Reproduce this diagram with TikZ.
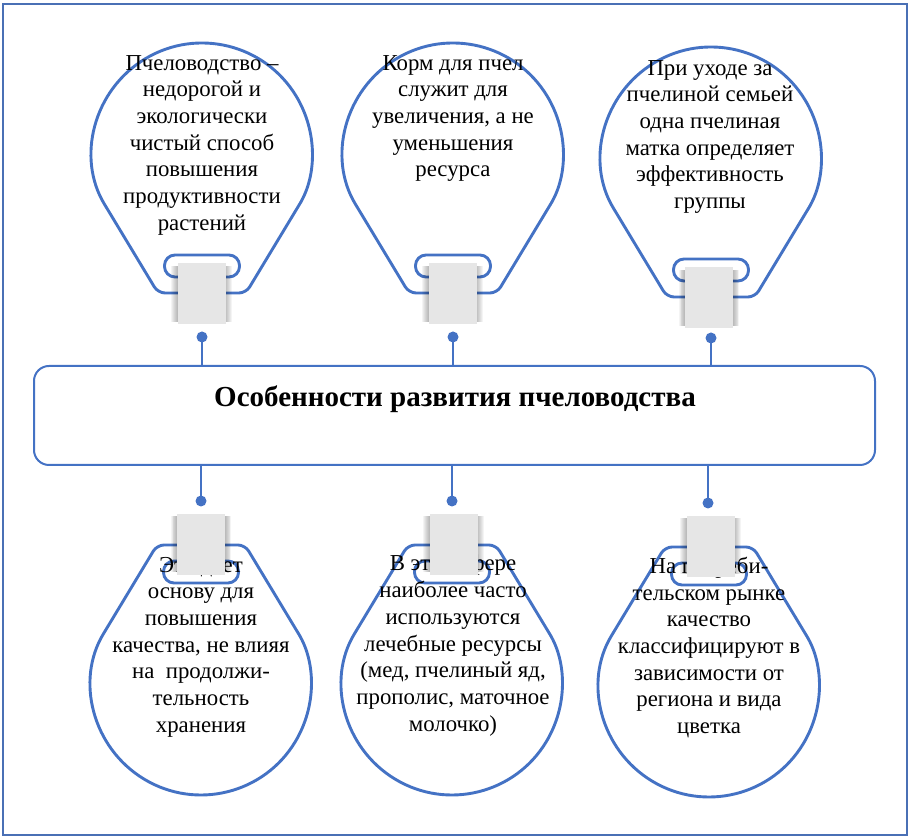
\documentclass[tikz,border=0pt]{standalone}
\usepackage{fontspec}
\setmainfont{Liberation Serif}
\definecolor{bblue}{HTML}{4472C4}
\definecolor{frameblue}{HTML}{4A70B5}
\definecolor{rectgrey}{HTML}{E6E6E6}
\tikzset{
  bulbline/.style={draw=bblue, line width=2.9pt, line join=round, rounded corners=7pt},
  pillshape/.style={draw=bblue, line width=2.9pt, rounded corners=10.5pt},
  connector/.style={draw=bblue, line width=2pt},
  dotmark/.style={circle, fill=bblue, inner sep=0pt, minimum size=11pt},
  bulbtext/.style={align=center, font=\fontsize{22.8}{26.7}\selectfont, inner sep=0pt, anchor=north},
  mainbox/.style={draw=bblue, line width=2pt, rounded corners=15pt, minimum width=841pt, minimum height=99pt, inner sep=0pt},
  titletext/.style={font=\bfseries\fontsize{29}{34}\selectfont, inner sep=0pt, anchor=base},
}
\newcommand{\bulbshape}{%
  \draw[bulbline] (0,0) -- (-44,0) -- (-94.17,83.18) arc[start angle=211.1, end angle=-31.1, radius=110] -- (44,0) -- cycle;
  \draw[pillshape] (-37.5,16) rectangle (37.5,38);
}
\newcommand{\greyblock}{%
  \foreach \i in {1,...,7} \fill[black, opacity=0.045] (-24-\i*0.9,-29) rectangle (24+\i*0.9,27);
  \fill[rectgrey] (-24,-31) rectangle (24,30);
}
\begin{document}
\begin{tikzpicture}[x=1pt,y=1pt]
\useasboundingbox (0,0) rectangle (911,840);
% outer frame
\draw[frameblue, line width=1.8pt] (3,836) rectangle (907,5);
% top bulbs
\begin{scope}[shift={(202,547)}]\bulbshape\end{scope}
\begin{scope}[shift={(453,547)}]\bulbshape\end{scope}
\begin{scope}[shift={(711,543)}]\bulbshape\end{scope}
% bottom bulbs
\begin{scope}[shift={(201,295)}, yscale=-1]\bulbshape\end{scope}
\begin{scope}[shift={(452,295)}, yscale=-1]\bulbshape\end{scope}
\begin{scope}[shift={(709,293)}, yscale=-1]\bulbshape\end{scope}
% texts
\node[bulbtext] (t1) at (202,{840-70+15.1}) {Пчеловодство –\\недорогой и\\экологически\\чистый способ\\повышения\\продуктивности\\растений};
\node[bulbtext] (t2) at (453,{840-70+15.1}) {Корм для пчел\\служит для\\увеличения, а не\\уменьшения\\ресурса};
\node[bulbtext] (t3) at (710,{840-75+15.1}) {При уходе за\\пчелиной семьей\\одна пчелиная\\матка определяет\\эффективность\\группы};
\node[bulbtext] (t4) at (201,{840-572+15.1}) {Это дает\\основу для\\повышения\\качества, не влияя\\на~ продолжи-\\тельность\\хранения};
\node[bulbtext] (t5) at (453,{840-570+15.1}) {В этой сфере\\наиболее часто\\используются\\лечебные ресурсы\\(мед, пчелиный яд,\\прополис, маточное\\молочко)};
\node[bulbtext] (t6) at (709,{840-572+15.1}) {На потреби-\\тельском рынке\\качество\\классифицируют в\\зависимости от\\региона и вида\\цветка};
% grey blocks
\begin{scope}[shift={(201.5,547)}]\greyblock\end{scope}
\begin{scope}[shift={(452.5,547)}]\greyblock\end{scope}
\begin{scope}[shift={(709,543)}]\greyblock\end{scope}
\begin{scope}[shift={(201,295)}, yscale=-1]\greyblock\end{scope}
\begin{scope}[shift={(453.5,295)}, yscale=-1]\greyblock\end{scope}
\begin{scope}[shift={(710.5,293)}, yscale=-1]\greyblock\end{scope}
% main box
\node[mainbox] (main) at (454.5,424.5) {};
\node[titletext] (title) at (455,{840-406.7}) {Особенности развития пчеловодства};
% dots and connectors
\node[dotmark] (d1) at (202,503) {};
\node[dotmark] (d2) at (453,503) {};
\node[dotmark] (d3) at (711,502) {};
\node[dotmark] (d4) at (201,339) {};
\node[dotmark] (d5) at (452,339) {};
\node[dotmark] (d6) at (708,337) {};
\foreach \d in {d1,d2,d3} \draw[connector] (\d.center) -- (\d.center |- main.north);
\foreach \d in {d4,d5,d6} \draw[connector] (\d.center) -- (\d.center |- main.south);
\end{tikzpicture}
\end{document}
